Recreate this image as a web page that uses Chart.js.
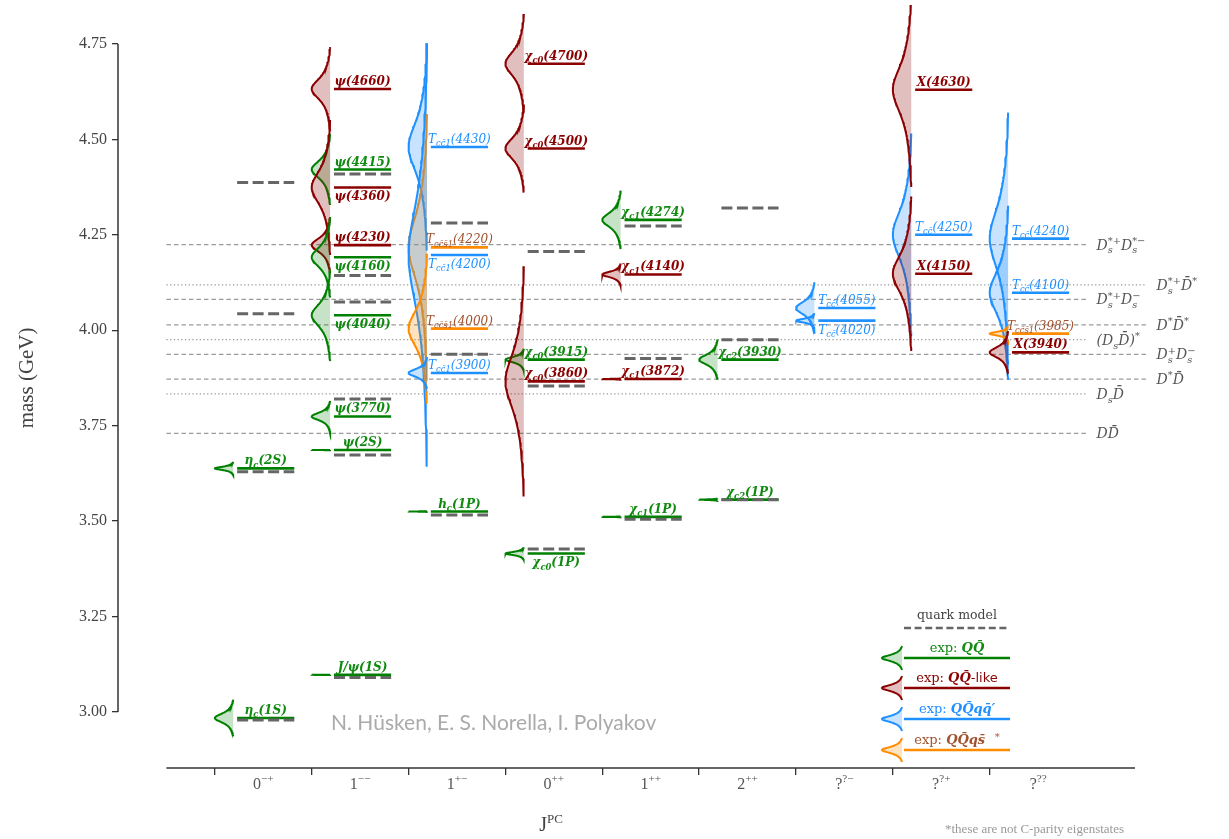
<!DOCTYPE html>
<html>
<head>
<meta charset="utf-8">
<script src="https://cdn.jsdelivr.net/npm/chart.js"></script>
<style>
  html, body { margin: 0; padding: 0; background: #fff; }
  #massChart { display: block; }
</style>
</head>
<body>
<canvas id="massChart" width="1229" height="839"></canvas>
<script>
// --- J^PC categories (x axis) ---
const categories = ['0^{\u2212+}', '1^{\u2212\u2212}', '1^{+\u2212}', '0^{++}', '1^{++}', '2^{++}', '?^{?\u2212}', '?^{?+}', '?^{??}'];
const yTicks = [3.00, 3.25, 3.50, 3.75, 4.00, 4.25, 4.50, 4.75];

// --- experimental states ---
const stateLabels = [
  '\u03b7_{c}(1S)', '\u03b7_{c}(2S)',
  'J/\u03c8(1S)', '\u03c8(2S)', '\u03c8(3770)', '\u03c8(4040)', '\u03c8(4160)', '\u03c8(4230)', '\u03c8(4360)', '\u03c8(4415)', '\u03c8(4660)',
  'h_{c}(1P)', 'T_{cc\u03041}(3900)', 'T_{cc\u0304s\u03041}(4000)', 'T_{cc\u03041}(4200)', 'T_{cc\u0304s\u03041}(4220)', 'T_{cc\u03041}(4430)',
  '\u03c7_{c0}(1P)', '\u03c7_{c0}(3860)', '\u03c7_{c0}(3915)', '\u03c7_{c0}(4500)', '\u03c7_{c0}(4700)',
  '\u03c7_{c1}(1P)', '\u03c7_{c1}(3872)', '\u03c7_{c1}(4140)', '\u03c7_{c1}(4274)',
  '\u03c7_{c2}(1P)', '\u03c7_{c2}(3930)',
  'T_{cc\u0304}(4020)', 'T_{cc\u0304}(4055)',
  'X(4150)', 'X(4630)', 'T_{cc\u0304}(4250)',
  'X(3940)', 'T_{cc\u0304s\u03041}(3985)', 'T_{cc\u0304}(4100)', 'T_{cc\u0304}(4240)'
];
const stateCat = [0, 0, 1, 1, 1, 1, 1, 1, 1, 1, 1, 2, 2, 2, 2, 2, 2, 3, 3, 3, 3, 3, 4, 4, 4, 4, 5, 5, 6, 6, 7, 7, 7, 8, 8, 8, 8];
const stateMass = [2.984, 3.638, 3.097, 3.686, 3.774, 4.039, 4.191, 4.223, 4.374, 4.421, 4.632,
  3.525, 3.888, 4.004, 4.197, 4.217, 4.480, 3.415, 3.866, 3.923, 4.476, 4.698,
  3.511, 3.872, 4.146, 4.289, 3.556, 3.923, 4.025, 4.058, 4.148, 4.630, 4.250,
  3.942, 3.991, 4.098, 4.240];
const stateWidth = [0.032, 0.0113, 0.0001, 0.0003, 0.027, 0.080, 0.070, 0.049, 0.118, 0.062, 0.073,
  0.0007, 0.028, 0.131, 0.370, 0.233, 0.181, 0.0108, 0.201, 0.019, 0.077, 0.087,
  0.0008, 0.0012, 0.019, 0.051, 0.002, 0.035, 0.013, 0.045, 0.135, 0.170, 0.177,
  0.037, 0.013, 0.152, 0.220];
const stateKind = ['qq', 'qq', 'qq', 'qq', 'qq', 'qq', 'qq', 'like', 'like', 'qq', 'like',
  'qq', 'tetra', 'strange', 'tetra', 'strange', 'tetra', 'qq', 'like', 'qq', 'like', 'like',
  'qq', 'like', 'like', 'qq', 'qq', 'qq', 'tetra', 'tetra', 'like', 'like', 'tetra',
  'like', 'strange', 'tetra', 'tetra'];
const stateBelow = [0, 0, 0, 0, 0, 1, 1, 0, 1, 0, 0, 0, 0, 0, 1, 0, 0, 1, 0, 0, 0, 0,
  0, 0, 0, 0, 0, 0, 1, 0, 0, 0, 0, 0, 0, 0, 0];

// --- quark model predictions ---
const qmCat = [0, 0, 0, 0, 1, 1, 1, 1, 1, 1, 2, 2, 2, 3, 3, 3, 4, 4, 4, 5, 5, 5];
const qmMass = [2.979, 3.629, 4.043, 4.387, 3.090, 3.673, 3.820, 4.074, 4.143, 4.409,
  3.516, 3.937, 4.281, 3.427, 3.854, 4.206, 3.505, 3.926, 4.273, 3.556, 3.975, 4.320];

// --- open charm thresholds ---
const thrLabels = ['D_{s}^{*+}D_{s}^{*\u2212}', 'D_{s}^{*+}D\u0304^{*}', 'D_{s}^{*+}D_{s}^{\u2212}', 'D^{*}D\u0304^{*}',
  '(D_{s}D\u0304)^{*}', 'D_{s}^{+}D_{s}^{\u2212}', 'D^{*}D\u0304', 'D_{s}D\u0304', 'DD\u0304'];
const thrMass = [4.2244, 4.1190, 4.0805, 4.0137, 3.9752, 3.9366, 3.8717, 3.8331, 3.7297];
const thrDotted = [false, true, false, false, true, false, false, true, false];
const thrFar = [false, true, false, true, false, true, true, false, false];

// colores por tipo
const kindColor = { qq: '#008000', like: '#8b0000', tetra: '#1e90ff', strange: '#ff8c00' };
const kindFill = { qq: 'rgba(0,128,0,0.22)', like: 'rgba(139,0,0,0.25)', tetra: 'rgba(30,144,255,0.25)', strange: 'rgba(255,140,0,0.25)' };
const kindText = { qq: '#108a10', like: '#8b0000', tetra: '#1e90ff', strange: '#a0522d' };

const X0 = -0.27, X1 = 0.32, BASE = -0.31, AMP = 0.19;

// breit-wigner shape, 0 at +-1.5 widths, 1 at the peak
function bw(u) {
  const L = 1 / (1 + u * u);
  return Math.max(0, (L - 0.1) / 0.9);
}

// --- rich text (sub/superscripts) ---
function parseRich(s) {
  const out = [];
  let buf = '', i = 0;
  while (i < s.length) {
    const ch = s[i];
    if ((ch === '_' || ch === '^') && s[i + 1] === '{') {
      if (buf) { out.push({ t: buf, m: 0 }); buf = ''; }
      const j = s.indexOf('}', i);
      out.push({ t: s.slice(i + 2, j), m: ch === '_' ? -1 : 1 });
      i = j + 1;
    } else { buf += ch; i++; }
  }
  if (buf) out.push({ t: buf, m: 0 });
  return out;
}

function drawRich(ctx, s, x, y, size, font, color, align) {
  const toks = parseRich(s);
  const small = size * 0.7;
  const fnt = sz => `${font.style || 'normal'} ${font.weight || 'normal'} ${sz}px ${font.family}`;
  const items = [];
  let w = 0;
  for (let k = 0; k < toks.length; k++) {
    const tk = toks[k];
    if (tk.m === 0) {
      ctx.font = fnt(size);
      items.push({ t: tk.t, x: w, dy: 0, sz: size });
      w += ctx.measureText(tk.t).width;
    } else {
      ctx.font = fnt(small);
      const tw = ctx.measureText(tk.t).width;
      items.push({ t: tk.t, x: w, dy: tk.m < 0 ? size * 0.28 : -size * 0.42, sz: small });
      const nx = toks[k + 1];
      if (nx && nx.m !== 0 && nx.m !== tk.m) {
        const tw2 = ctx.measureText(nx.t).width;
        items.push({ t: nx.t, x: w, dy: nx.m < 0 ? size * 0.28 : -size * 0.42, sz: small });
        w += Math.max(tw, tw2);
        k++;
      } else w += tw;
    }
  }
  const x0 = align === 'center' ? x - w / 2 : align === 'right' ? x - w : x;
  ctx.fillStyle = color;
  ctx.textAlign = 'left';
  ctx.textBaseline = 'alphabetic';
  items.forEach(it => { ctx.font = fnt(it.sz); ctx.fillText(it.t, x0 + it.x, y + it.dy); });
  return w;
}

// segments with own font, centered
function drawSegs(ctx, segs, cx, y) {
  let w = 0;
  segs.forEach(s => { ctx.font = s[1]; w += ctx.measureText(s[0]).width; });
  let x = cx - w / 2;
  ctx.textAlign = 'left';
  ctx.textBaseline = 'alphabetic';
  segs.forEach(s => {
    ctx.font = s[1]; ctx.fillStyle = s[2];
    ctx.fillText(s[0], x, y + (s[3] || 0));
    x += ctx.measureText(s[0]).width;
  });
}

// --- datasets ---
const datasets = [];

// 1. umbrales
thrMass.forEach((m, i) => {
  datasets.push({
    data: [{ x: -1.0, y: m }, { x: thrFar[i] ? 9.12 : 8.5, y: m }],
    borderColor: '#9a9a9a',
    borderWidth: 1.2,
    borderDash: thrDotted[i] ? [1.3, 2.4] : [4.5, 3],
    fill: false,
    clip: false,
    order: 5
  });
});

// 2. perfiles (violines) de cada estado
stateMass.forEach((M, i) => {
  const G = stateWidth[i];
  const base = stateCat[i] + BASE;
  const h = 1.5 * G;
  const pts = [];
  const N = 90;
  for (let k = 0; k <= N; k++) {
    const m = M + h - 2 * h * k / N;
    pts.push({ x: base - AMP * bw((m - M) / (G / 2)), y: m });
  }
  datasets.push({
    data: pts,
    indexAxis: 'y',
    borderColor: kindColor[stateKind[i]],
    borderWidth: 2,
    backgroundColor: kindFill[stateKind[i]],
    fill: G > 0.002 ? { value: base } : false,
    order: 4
  });
});

// 3. lineas de masa experimentales
stateMass.forEach((M, i) => {
  const c = stateCat[i];
  datasets.push({
    data: [{ x: c + X0, y: M }, { x: c + X1, y: M }],
    borderColor: kindColor[stateKind[i]],
    borderWidth: 2.6,
    fill: false,
    order: 3
  });
});

// 4. modelo de quarks
qmMass.forEach((m, i) => {
  const c = qmCat[i];
  datasets.push({
    data: [{ x: c + X0, y: m }, { x: c + X1, y: m }],
    borderColor: '#666666',
    borderWidth: 3,
    borderDash: [11, 4.5],
    fill: false,
    order: 2
  });
});

const boundaries = categories.map((c, i) => i - 0.5);

const overlay = {
  id: 'overlay',
  afterDatasetsDraw(chart) {
    const { ctx, scales: { x, y } } = chart;
    ctx.save();
    // etiquetas de umbrales
    thrLabels.forEach((lab, i) => {
      const px = x.getPixelForValue(thrFar[i] ? 9.12 : 8.5) + 10;
      drawRich(ctx, lab, px, y.getPixelForValue(thrMass[i]) + 5, 14,
        { family: 'DejaVu Serif', style: 'italic' }, '#555', 'left');
    });
    // etiquetas de estados
    stateLabels.forEach((lab, i) => {
      const k = stateKind[i];
      const px = x.getPixelForValue(stateCat[i] + (X0 + X1) / 2);
      const py = y.getPixelForValue(stateMass[i]);
      const bold = (k === 'qq' || k === 'like');
      drawRich(ctx, lab, px, stateBelow[i] ? py + 13 : py - 4, 12,
        { family: 'DejaVu Serif', style: 'italic', weight: bold ? 'bold' : 'normal' }, kindText[k], 'center');
    });
    ctx.restore();
  },
  afterDraw(chart) {
    const { ctx, chartArea: a, scales: { x, y } } = chart;
    ctx.save();
    // ejes recortados
    ctx.strokeStyle = '#333';
    ctx.lineWidth = 1.5;
    ctx.beginPath();
    ctx.moveTo(a.left, y.getPixelForValue(yTicks[yTicks.length - 1]));
    ctx.lineTo(a.left, y.getPixelForValue(yTicks[0]));
    ctx.stroke();
    ctx.beginPath();
    ctx.moveTo(x.getPixelForValue(-1), a.bottom);
    ctx.lineTo(a.right, a.bottom);
    ctx.stroke();

    // etiquetas J^PC
    categories.forEach((c, i) => {
      drawRich(ctx, c, x.getPixelForValue(i), a.bottom + 21, 16, { family: 'Liberation Serif' }, '#555', 'center');
    });

    // titulos de ejes
    drawSegs(ctx, [['J', '20px Liberation Serif', '#444'], ['PC', '13px Liberation Serif', '#444', -8]], 551, 831);
    ctx.save();
    ctx.translate(27, (y.getPixelForValue(3.0) + y.getPixelForValue(4.75)) / 2);
    ctx.rotate(-Math.PI / 2);
    ctx.font = '21px Liberation Serif';
    ctx.fillStyle = '#444';
    ctx.textAlign = 'center';
    ctx.textBaseline = 'middle';
    ctx.fillText('mass (GeV)', 0, 0);
    ctx.restore();

    // leyenda
    const lx0 = 904, lx1 = 1010, lcx = 957;
    ctx.font = '12.5px DejaVu Serif';
    ctx.fillStyle = '#444';
    ctx.textAlign = 'center';
    ctx.fillText('quark model', lcx, 619);
    ctx.strokeStyle = '#666';
    ctx.lineWidth = 2.5;
    ctx.setLineDash([7, 3.6]);
    ctx.beginPath(); ctx.moveTo(lx0, 628); ctx.lineTo(lx1, 628); ctx.stroke();
    ctx.setLineDash([]);

    const bi = 'italic bold 13px DejaVu Serif';
    const rg = '13px DejaVu Serif';
    const entries = [
      { kind: 'qq', ly: 658, segs: [['exp: ', rg], ['QQ\u0304', bi]] },
      { kind: 'like', ly: 688, segs: [['exp: ', rg], ['QQ\u0304', bi], ['-like', '13px DejaVu Sans']] },
      { kind: 'tetra', ly: 719, segs: [['exp: ', rg], ['QQ\u0304qq\u0304\u2032', bi]] },
      { kind: 'strange', ly: 750, segs: [['exp: ', rg], ['QQ\u0304qs\u0304', bi], ['   *', '10px DejaVu Serif', -4]] }
    ];
    entries.forEach(e => {
      const col = kindColor[e.kind];
      const tcol = kindText[e.kind];
      drawSegs(ctx, e.segs.map(s => [s[0], s[1], tcol, s[2] || 0]), lcx, e.ly - 6);
      ctx.strokeStyle = col;
      ctx.lineWidth = 2.6;
      ctx.beginPath(); ctx.moveTo(lx0, e.ly); ctx.lineTo(lx1, e.ly); ctx.stroke();
      // mini perfil
      const bx = 902;
      ctx.beginPath();
      for (let k = 0; k <= 40; k++) {
        const t = -1 + 2 * k / 40;
        const px = bx - 20 * bw(3 * t);
        const py = e.ly + 12 * t;
        if (k === 0) ctx.moveTo(px, py); else ctx.lineTo(px, py);
      }
      ctx.fillStyle = kindFill[e.kind];
      ctx.fill();
      ctx.lineWidth = 2;
      ctx.stroke();
    });

    // autores y nota
    ctx.font = '21px Lato';
    ctx.fillStyle = '#aaaaaa';
    ctx.textAlign = 'left';
    ctx.fillText('N. H\u00fcsken, E. S. Norella, I. Polyakov', 331, 730);
    ctx.font = '13px Liberation Serif';
    ctx.fillStyle = '#999';
    ctx.fillText('*these are not C-parity eigenstates', 945, 833);
    ctx.restore();
  }
};

new Chart(document.getElementById('massChart').getContext('2d'), {
  type: 'line',
  data: { datasets },
  options: {
    responsive: false,
    animation: false,
    events: [],
    layout: { padding: { top: 5, right: 94, left: 0, bottom: 0 } },
    elements: { point: { radius: 0 }, line: { tension: 0 } },
    plugins: { legend: { display: false }, tooltip: { enabled: false } },
    scales: {
      x: {
        type: 'linear',
        min: -1.5,
        max: 9.0,
        afterBuildTicks: s => { s.ticks = boundaries.map(v => ({ value: v })); },
        afterFit: s => { s.height = 71; s.paddingLeft = 0; s.paddingRight = 0; },
        ticks: { callback: () => '', autoSkip: false },
        grid: { drawOnChartArea: false, tickLength: 7, color: '#333', lineWidth: 1.3 },
        border: { display: false }
      },
      y: {
        type: 'linear',
        min: 2.853,
        max: 4.852,
        afterBuildTicks: s => { s.ticks = yTicks.map(v => ({ value: v })); },
        afterFit: s => { s.width = 118; s.paddingTop = 0; s.paddingBottom = 0; },
        ticks: {
          callback: v => v.toFixed(2),
          font: { family: 'Liberation Serif', size: 16 },
          color: '#444',
          padding: 5
        },
        grid: { drawOnChartArea: false, tickLength: 6, color: '#333', lineWidth: 1.3 },
        border: { display: false }
      }
    }
  },
  plugins: [overlay]
});
</script>
</body>
</html>
